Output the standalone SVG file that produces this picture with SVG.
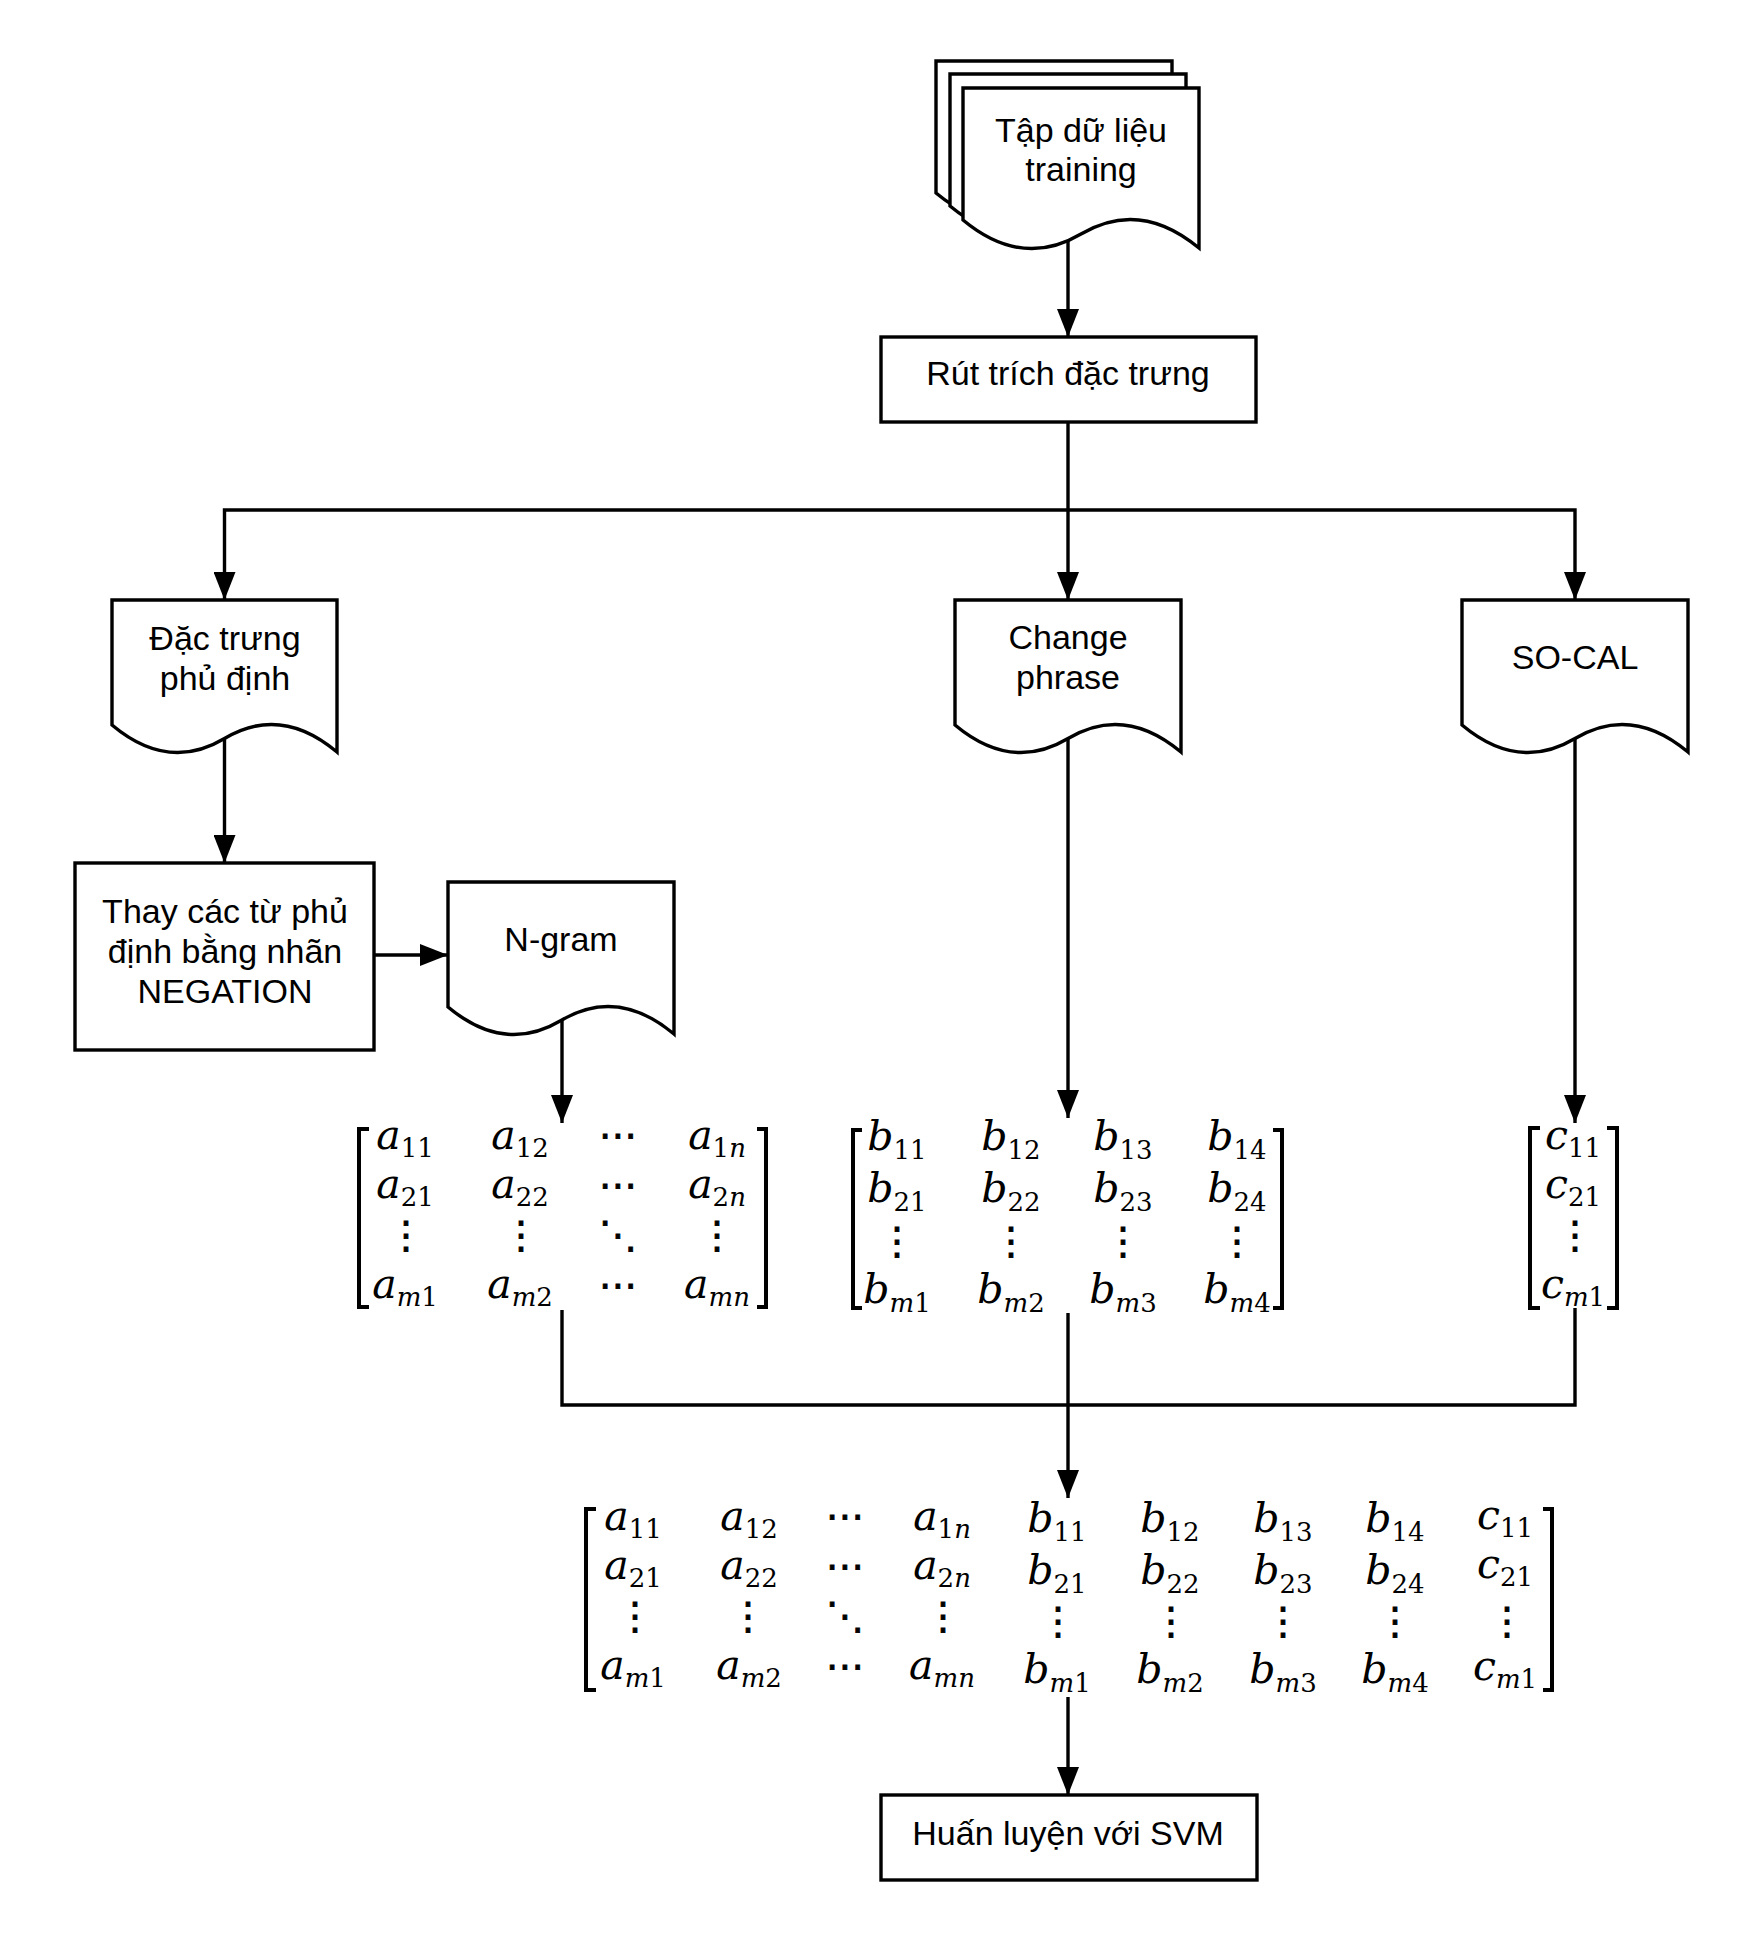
<svg xmlns="http://www.w3.org/2000/svg" width="1763" height="1956" viewBox="0 0 1763 1956">
<style>
.bg{fill:#ffffff}
.n{fill:#ffffff;stroke:#000;stroke-width:3.4}
.e{fill:none;stroke:#000;stroke-width:3.4}
.br{fill:none;stroke:#000;stroke-width:4}
.t{font-family:"Liberation Sans",Arial,sans-serif;font-size:34px;fill:#000;text-anchor:middle}
.m{font-family:"DejaVu Serif",serif;font-style:italic;font-size:41px;fill:#000;text-anchor:middle}
.s{font-size:26px;font-style:normal}
.i{font-style:italic}
.d{font-family:"DejaVu Sans",sans-serif;font-size:38px;fill:#000;stroke:#000;stroke-width:0.8;text-anchor:middle}
</style>
<defs>
<marker id="arr" viewBox="0 0 28 22" refX="28" refY="11" markerWidth="28" markerHeight="22" markerUnits="userSpaceOnUse" orient="auto"><path d="M0,0 L28,11 L0,22 Z" fill="#000"/></marker>
</defs>
<rect class="bg" x="0" y="0" width="1763" height="1956"/>

<g id="connectors">
<path class="e" d="M1068,236 V337" marker-end="url(#arr)"/>
<path class="e" d="M1068,422 V600" marker-end="url(#arr)"/>
<path class="e" d="M1068,510 H224.5 V600" marker-end="url(#arr)"/>
<path class="e" d="M1068,510 H1575 V600" marker-end="url(#arr)"/>
<path class="e" d="M224.5,738 V863" marker-end="url(#arr)"/>
<path class="e" d="M374,955 H448" marker-end="url(#arr)"/>
<path class="e" d="M562,1020 V1123" marker-end="url(#arr)"/>
<path class="e" d="M1068,738 V1118" marker-end="url(#arr)"/>
<path class="e" d="M1575,738 V1123" marker-end="url(#arr)"/>
<path class="e" d="M562,1310 V1405 H1575 V1308"/>
<path class="e" d="M1068,1313 V1498" marker-end="url(#arr)"/>
<path class="e" d="M1068,1697 V1795" marker-end="url(#arr)"/>
</g>

<g id="tap-du-lieu">
<path class="n" d="M936,61 H1172 V221 Q1113,172 1054,207 Q995,242 936,193 Z"/>
<path class="n" d="M950,74 H1186 V234 Q1127,185 1068,220 Q1009,255 950,206 Z"/>
<path class="n" d="M963,88 H1199 V248 Q1140,199 1081,234 Q1022,269 963,220 Z"/>
<text class="t" x="1081" y="142">Tập dữ liệu</text>
<text class="t" x="1081" y="181">training</text>
</g>

<g id="rut-trich">
<rect class="n" x="881" y="337" width="375" height="85"/>
<text class="t" x="1068" y="385">Rút trích đặc trưng</text>
</g>

<g id="dac-trung-phu-dinh">
<path class="n" d="M112,600 H337 V752 Q280.75,704.75 224.5,738.5 Q168.25,772.25 112,725 Z"/>
<text class="t" x="225" y="650">Đặc trưng</text>
<text class="t" x="225" y="690">phủ định</text>
</g>

<g id="change-phrase">
<path class="n" d="M955,600 H1181 V752 Q1124.5,704.75 1068,738.5 Q1011.5,772.25 955,725 Z"/>
<text class="t" x="1068" y="649">Change</text>
<text class="t" x="1068" y="689">phrase</text>
</g>

<g id="so-cal">
<path class="n" d="M1462,600 H1688 V752 Q1631.5,704.75 1575,738.5 Q1518.5,772.25 1462,725 Z"/>
<text class="t" x="1575" y="669">SO-CAL</text>
</g>

<g id="thay-negation">
<rect class="n" x="75" y="863" width="299" height="187"/>
<text class="t" x="225" y="923">Thay các từ phủ</text>
<text class="t" x="225" y="963">định bằng nhãn</text>
<text class="t" x="225" y="1003">NEGATION</text>
</g>

<g id="n-gram">
<path class="n" d="M448,882 H674 V1034 Q617.5,986.75 561,1020.5 Q504.5,1054.25 448,1007 Z"/>
<text class="t" x="561" y="951">N-gram</text>
</g>

<g id="matrix-a">
<path class="br" d="M369,1129 H359 V1307 H369"/>
<path class="br" d="M757,1129 H766 V1307 H757"/>
<text class="m" x="405" y="1149">a<tspan class="s" dy="8">11</tspan></text>
<text class="m" x="520" y="1149">a<tspan class="s" dy="8">12</tspan></text>
<text class="d" x="618" y="1148">⋯</text>
<text class="m" x="717" y="1149">a<tspan class="s" dy="8">1<tspan class="i">n</tspan></tspan></text>
<text class="m" x="405" y="1198">a<tspan class="s" dy="8">21</tspan></text>
<text class="m" x="520" y="1198">a<tspan class="s" dy="8">22</tspan></text>
<text class="d" x="618" y="1198">⋯</text>
<text class="m" x="717" y="1198">a<tspan class="s" dy="8">2<tspan class="i">n</tspan></tspan></text>
<text class="d" x="406" y="1248">⋮</text>
<text class="d" x="521" y="1248">⋮</text>
<text class="d" x="618" y="1248">⋱</text>
<text class="d" x="717" y="1248">⋮</text>
<text class="m" x="405" y="1298">a<tspan class="s" dy="8"><tspan class="i">m</tspan>1</tspan></text>
<text class="m" x="520" y="1298">a<tspan class="s" dy="8"><tspan class="i">m</tspan>2</tspan></text>
<text class="d" x="618" y="1298">⋯</text>
<text class="m" x="717" y="1298">a<tspan class="s" dy="8"><tspan class="i">mn</tspan></tspan></text>
</g>

<g id="matrix-b">
<path class="br" d="M862,1130 H853 V1308 H862"/>
<path class="br" d="M1273,1130 H1282 V1308 H1273"/>
<text class="m" x="897" y="1150">b<tspan class="s" dy="9">11</tspan></text>
<text class="m" x="1011" y="1150">b<tspan class="s" dy="9">12</tspan></text>
<text class="m" x="1123" y="1150">b<tspan class="s" dy="9">13</tspan></text>
<text class="m" x="1237" y="1150">b<tspan class="s" dy="9">14</tspan></text>
<text class="m" x="897" y="1202">b<tspan class="s" dy="9">21</tspan></text>
<text class="m" x="1011" y="1202">b<tspan class="s" dy="9">22</tspan></text>
<text class="m" x="1123" y="1202">b<tspan class="s" dy="9">23</tspan></text>
<text class="m" x="1237" y="1202">b<tspan class="s" dy="9">24</tspan></text>
<text class="d" x="897" y="1254">⋮</text>
<text class="d" x="1011" y="1254">⋮</text>
<text class="d" x="1123" y="1254">⋮</text>
<text class="d" x="1237" y="1254">⋮</text>
<text class="m" x="897" y="1303">b<tspan class="s" dy="9"><tspan class="i">m</tspan>1</tspan></text>
<text class="m" x="1011" y="1303">b<tspan class="s" dy="9"><tspan class="i">m</tspan>2</tspan></text>
<text class="m" x="1123" y="1303">b<tspan class="s" dy="9"><tspan class="i">m</tspan>3</tspan></text>
<text class="m" x="1237" y="1303">b<tspan class="s" dy="9"><tspan class="i">m</tspan>4</tspan></text>
</g>

<g id="matrix-c">
<path class="br" d="M1540,1128 H1530 V1308 H1540"/>
<path class="br" d="M1607,1128 H1617 V1308 H1607"/>
<text class="m" x="1573" y="1149">c<tspan class="s" dy="8">11</tspan></text>
<text class="m" x="1573" y="1198">c<tspan class="s" dy="8">21</tspan></text>
<text class="d" x="1575" y="1248">⋮</text>
<text class="m" x="1573" y="1298">c<tspan class="s" dy="8"><tspan class="i">m</tspan>1</tspan></text>
</g>

<g id="matrix-combined">
<path class="br" d="M596,1509 H586 V1690 H596"/>
<path class="br" d="M1543,1509 H1552 V1690 H1543"/>
<text class="m" x="633" y="1530">a<tspan class="s" dy="8">11</tspan></text>
<text class="m" x="749" y="1530">a<tspan class="s" dy="8">12</tspan></text>
<text class="d" x="845" y="1529">⋯</text>
<text class="m" x="942" y="1530">a<tspan class="s" dy="8">1<tspan class="i">n</tspan></tspan></text>
<text class="m" x="1057" y="1532">b<tspan class="s" dy="9">11</tspan></text>
<text class="m" x="1170" y="1532">b<tspan class="s" dy="9">12</tspan></text>
<text class="m" x="1283" y="1532">b<tspan class="s" dy="9">13</tspan></text>
<text class="m" x="1395" y="1532">b<tspan class="s" dy="9">14</tspan></text>
<text class="m" x="1505" y="1529">c<tspan class="s" dy="8">11</tspan></text>

<text class="m" x="633" y="1579">a<tspan class="s" dy="8">21</tspan></text>
<text class="m" x="749" y="1579">a<tspan class="s" dy="8">22</tspan></text>
<text class="d" x="845" y="1579">⋯</text>
<text class="m" x="942" y="1579">a<tspan class="s" dy="8">2<tspan class="i">n</tspan></tspan></text>
<text class="m" x="1057" y="1584">b<tspan class="s" dy="9">21</tspan></text>
<text class="m" x="1170" y="1584">b<tspan class="s" dy="9">22</tspan></text>
<text class="m" x="1283" y="1584">b<tspan class="s" dy="9">23</tspan></text>
<text class="m" x="1395" y="1584">b<tspan class="s" dy="9">24</tspan></text>
<text class="m" x="1505" y="1578">c<tspan class="s" dy="8">21</tspan></text>

<text class="d" x="635" y="1629">⋮</text>
<text class="d" x="748" y="1629">⋮</text>
<text class="d" x="845" y="1629">⋱</text>
<text class="d" x="943" y="1629">⋮</text>
<text class="d" x="1058" y="1634">⋮</text>
<text class="d" x="1171" y="1634">⋮</text>
<text class="d" x="1283" y="1634">⋮</text>
<text class="d" x="1395" y="1634">⋮</text>
<text class="d" x="1507" y="1634">⋮</text>

<text class="m" x="633" y="1679">a<tspan class="s" dy="8"><tspan class="i">m</tspan>1</tspan></text>
<text class="m" x="749" y="1679">a<tspan class="s" dy="8"><tspan class="i">m</tspan>2</tspan></text>
<text class="d" x="845" y="1679">⋯</text>
<text class="m" x="942" y="1679">a<tspan class="s" dy="8"><tspan class="i">mn</tspan></tspan></text>
<text class="m" x="1057" y="1683">b<tspan class="s" dy="9"><tspan class="i">m</tspan>1</tspan></text>
<text class="m" x="1170" y="1683">b<tspan class="s" dy="9"><tspan class="i">m</tspan>2</tspan></text>
<text class="m" x="1283" y="1683">b<tspan class="s" dy="9"><tspan class="i">m</tspan>3</tspan></text>
<text class="m" x="1395" y="1683">b<tspan class="s" dy="9"><tspan class="i">m</tspan>4</tspan></text>
<text class="m" x="1505" y="1680">c<tspan class="s" dy="8"><tspan class="i">m</tspan>1</tspan></text>
</g>

<g id="huan-luyen-svm">
<rect class="n" x="881" y="1795" width="376" height="85"/>
<text class="t" x="1068" y="1845">Huấn luyện với SVM</text>
</g>
</svg>
